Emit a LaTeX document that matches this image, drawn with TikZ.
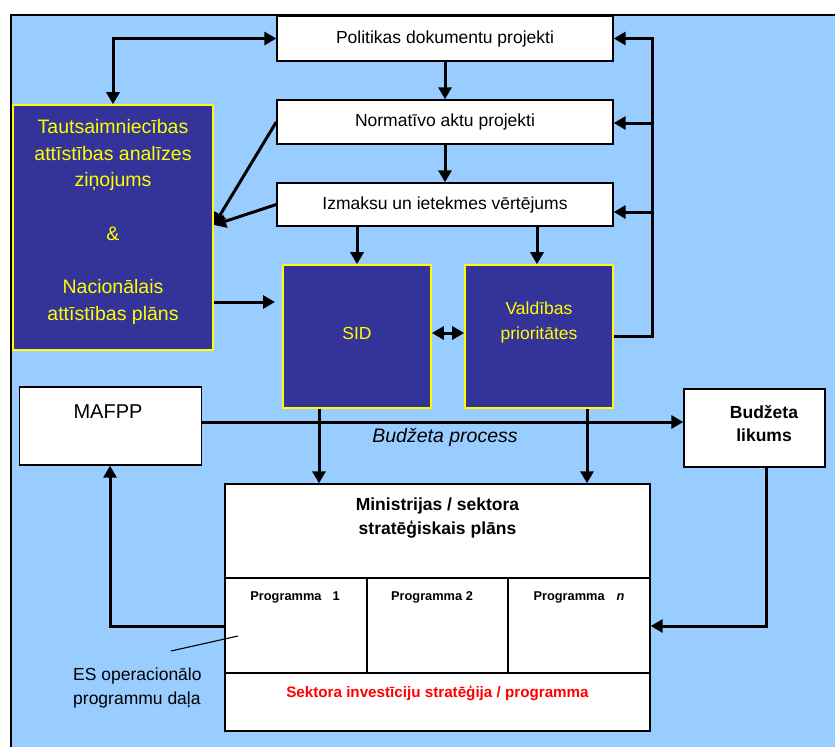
\documentclass[tikz,border=0pt]{standalone}
\usepackage{fontspec}
\setmainfont{Liberation Sans}
\usetikzlibrary{arrows.meta,calc}
\definecolor{bgblue}{HTML}{99CCFF}
\definecolor{darkblue}{HTML}{333399}
\definecolor{yel}{HTML}{FFFF00}
\definecolor{redtxt}{HTML}{FF0000}
\newcommand{\fsz}[2]{\fontsize{#1}{#2}\selectfont}
\begin{document}
\begin{tikzpicture}[x=1pt,y=-1pt,
  wbox/.style={draw=black, line width=1.4pt, fill=white, inner sep=0pt, align=center},
  dbox/.style={draw=yel, line width=1.6pt, fill=darkblue, inner sep=0pt},
  ytext/.style={text=yel, align=center, inner sep=0pt},
  conn/.style={line width=3pt, -{Triangle[length=12pt,width=13pt]}},
  dconn/.style={line width=3pt, {Triangle[length=12pt,width=13pt]}-{Triangle[length=12pt,width=13pt]}},
  grid/.style={line width=1.4pt}
]
\useasboundingbox (0,0) rectangle (835,747);
\fill[bgblue] (11,15) rectangle (835,747);
\draw[line width=1.6pt] (11,747) -- (11,15) -- (835,15);

% top white boxes
\node[wbox, minimum width=336pt, minimum height=45pt, font=\fsz{17.5}{21}] (pol) at (445,38.5) {Politikas dokumentu projekti};
\node[wbox, minimum width=336pt, minimum height=44pt, font=\fsz{17.5}{21}] (nor) at (445,122) {Normatīvo aktu projekti};
\node[wbox, minimum width=336pt, minimum height=43pt, font=\fsz{17.5}{21}] (izm) at (445,204.5) {Izmaksu un ietekmes vērtējums};

% dark boxes
\node[dbox, minimum width=200pt, minimum height=245pt] (tau) at (113,227.5) {};
\node[ytext, font=\fsz{19.5}{26.7}] (tautxt) at (113,222) {Tautsaimniecības\\attīstības analīzes\\ziņojums\\[26.7pt]\&\\[26.7pt]Nacionālais\\attīstības plāns};
\node[dbox, minimum width=148pt, minimum height=143pt] (sid) at (357,336.5) {};
\node[ytext, font=\fsz{17.5}{21}] (sidtxt) at (357,333) {SID};
\node[dbox, minimum width=148pt, minimum height=143pt] (val) at (539,336.5) {};
\node[ytext, font=\fsz{17.5}{25}] (valtxt) at (539,322) {Valdības\\prioritātes};

% MAFPP and Budzeta
\node[wbox, minimum width=182pt, minimum height=78pt] (maf) at (110.5,426) {};
\node[inner sep=0pt, font=\fsz{20}{24}] (maftxt) at (108,412) {MAFPP};
\node[wbox, minimum width=141pt, minimum height=78pt] (bud) at (754.5,428) {};
\node[inner sep=0pt, align=center, font=\bfseries\fsz{17.5}{23}] (budtxt) at (764,423.5) {Budžeta\\likums};

% Ministrijas box
\node[wbox, minimum width=425pt, minimum height=247pt] (min) at (437.5,607.5) {};
\coordinate (r1) at (0,578);
\coordinate (r2) at (0,673);
\coordinate (c1) at (367,0);
\coordinate (c2) at (508,0);
\draw[grid] (min.west |- r1) -- (min.east |- r1);
\draw[grid] (min.west |- r2) -- (min.east |- r2);
\draw[grid] (c1 |- r1) -- (c1 |- r2);
\draw[grid] (c2 |- r1) -- (c2 |- r2);
\node[inner sep=0pt, align=center, font=\bfseries\fsz{17.5}{24}] (mintxt) at (437.5,518) {Ministrijas / sektora\\stratēģiskais plāns};
\node[inner sep=0pt, font=\bfseries\fsz{12.8}{15}] (p1) at (295,597) {Programma\hspace{11pt}1};
\node[inner sep=0pt, font=\bfseries\fsz{12.8}{15}] (p2) at (432,597) {Programma 2};
\node[inner sep=0pt, font=\bfseries\fsz{12.8}{15}] (pn) at (579,597) {Programma\hspace{12pt}\textit{n}};
\node[inner sep=0pt, text=redtxt, font=\bfseries\fsz{15.2}{18}] (sek) at (437.5,693) {Sektora investīciju stratēģija / programma};

% annotation
\node[inner sep=0pt, align=left, anchor=west, font=\fsz{17.5}{24}] (es) at (73,688) {ES operacionālo\\programmu daļa};
\coordinate (annA) at (238,636);
\coordinate (annB) at (171,651);
\draw[line width=1.1pt] (annA) -- (annB);

% connectors top
\draw[dconn] (pol.west) -| (tau.north);
\draw[conn] (pol.south) -- (nor.north);
\draw[conn] (nor.south) -- (izm.north);
\coordinate (tauin) at (214,225);
\draw[conn] (nor.west) -- (tauin);
\draw[conn] (izm.west) -- (tauin);
\coordinate (ty) at (0,302);
\coordinate (sidin) at (275,302);
\draw[conn] (tau.east |- ty) -- (sidin);
\draw[conn] (izm.south -| sid.north) -- (sid.north);
\coordinate (vx) at (537,0);
\draw[conn] (izm.south -| vx) -- (val.north -| vx);
\coordinate (sy) at (0,333);
\draw[dconn] (sid.east |- sy) -- (val.west |- sy);

% right feedback
\coordinate (rtop) at (652,38.5);
\draw[conn] (val.east) -| (rtop) -- (pol.east);
\coordinate (ny) at (0,123);
\coordinate (iy) at (0,212);
\draw[conn] (rtop |- ny) -- (nor.east |- ny);
\draw[conn] (rtop |- iy) -- (izm.east |- iy);

% lower connectors
\coordinate (sidx) at (319,0);
\coordinate (valx) at (587,0);
\draw[conn] (sid.south -| sidx) -- (min.north -| sidx);
\draw[conn] (val.south -| valx) -- (min.north -| valx);
\coordinate (bpy) at (0,422);
\draw[conn] (maf.east |- bpy) -- (bud.west |- bpy);
\node[inner sep=0pt, font=\itshape\fsz{19.5}{23}] (bp) at (445,437) {Budžeta process};
\coordinate (budx) at (766,0);
\coordinate (py) at (0,626);
\draw[conn] (bud.south -| budx) |- (min.east |- py);
\coordinate (mafx) at (110,0);
\draw[conn] (min.west |- py) -| (maf.south -| mafx);
\end{tikzpicture}
\end{document}
